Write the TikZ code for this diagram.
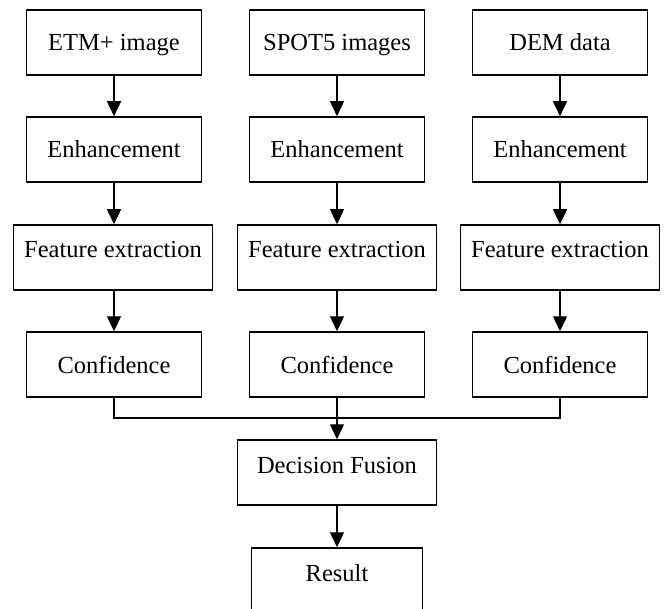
\documentclass[tikz,border=0pt]{standalone}
\usepackage{fontspec}
\setmainfont{Liberation Serif}
\usetikzlibrary{arrows.meta}
\begin{document}
\begin{tikzpicture}[x=1pt,y=-1pt,
  box/.style={draw, line width=1.5pt, minimum height=65pt, inner sep=0pt,
    font=\fontsize{24.5}{29}\selectfont, text height=17pt, text depth=0pt},
  narrow/.style={box, minimum width=175pt},
  wide/.style={box, minimum width=199pt},
  raised/.style={text depth=16pt},
  arr/.style={line width=1.4pt, -{Triangle[length=15pt,width=14pt]}},
  ln/.style={line width=1.4pt}]
\useasboundingbox (0,0) rectangle (668,609);
% column 1
\node[narrow] (a1) at (114,42.5) {ETM+ image};
\node[narrow] (b1) at (114,149.5) {Enhancement};
\node[wide, raised] (f1) at (113,257.5) {Feature extraction};
\node[narrow] (c1) at (114,364.5) {Confidence};
% column 2
\node[narrow] (a2) at (337,42.5) {SPOT5 images};
\node[narrow] (b2) at (337,149.5) {Enhancement};
\node[wide, raised] (f2) at (337,257.5) {Feature extraction};
\node[narrow] (c2) at (337,364.5) {Confidence};
% column 3
\node[narrow] (a3) at (560,42.5) {DEM data};
\node[narrow] (b3) at (560,149.5) {Enhancement};
\node[wide, raised] (f3) at (560,257.5) {Feature extraction};
\node[narrow] (c3) at (560,364.5) {Confidence};
% bottom
\node[wide, raised] (df) at (337,472.5) {Decision Fusion};
\node[box, raised, minimum width=171pt] (res) at (337,580.5) {Result};
\coordinate (join) at (337,418);
% arrows
\foreach \i in {1,2,3}{
  \draw[arr] (a\i.south) -- (b\i.north);
  \draw[arr] (b\i.south) -- (b\i.south |- f\i.north);
  \draw[arr] (f\i.south -| c\i.south) -- (c\i.north);
}
\draw[ln] (c1.south) |- (join) -| (c3.south);
\draw[ln] (c2.south) -- (join);
\draw[arr] (join) -- (df.north);
\draw[arr] (df.south) -- (res.north);
\end{tikzpicture}
\end{document}
